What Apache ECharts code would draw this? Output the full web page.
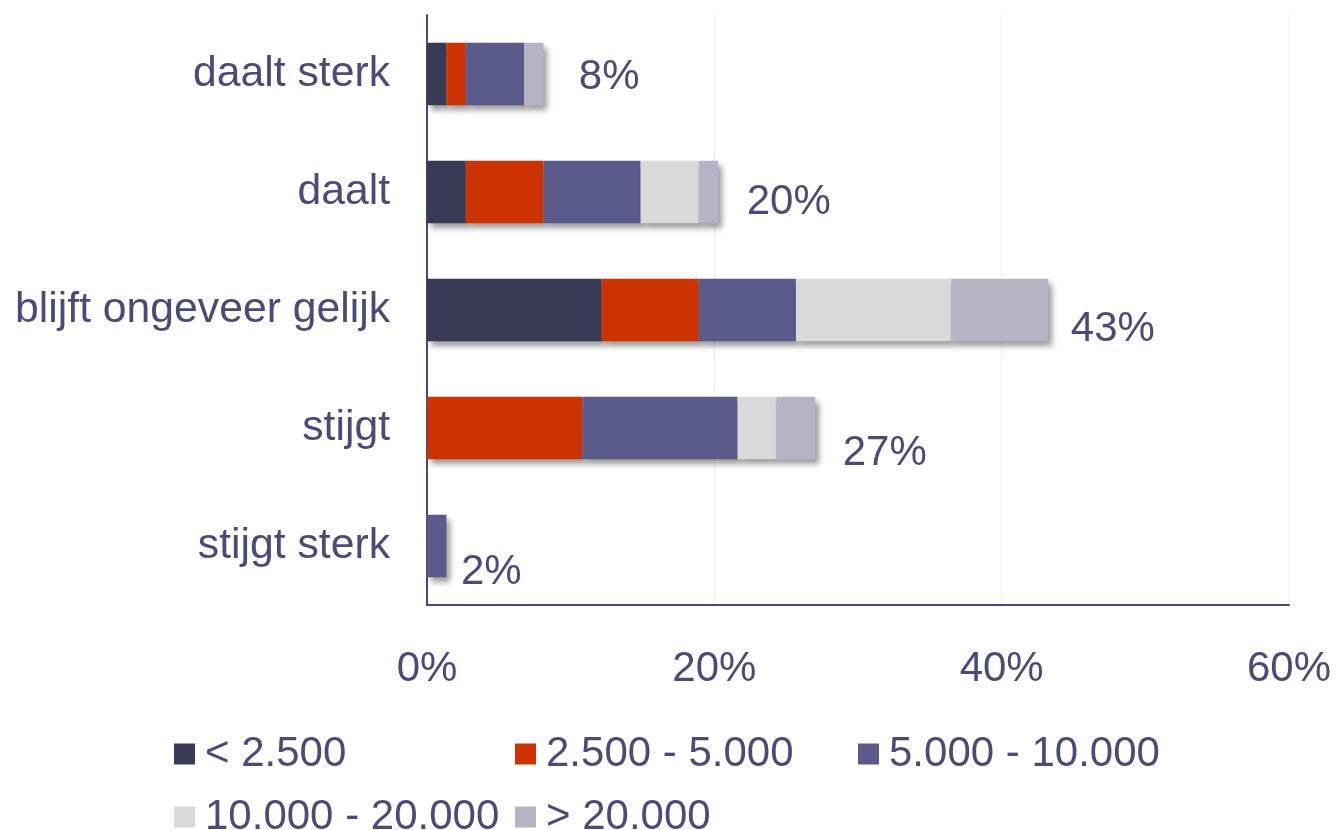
<!DOCTYPE html>
<html>
<head>
<meta charset="utf-8">
<script src="https://cdn.jsdelivr.net/npm/echarts@6/dist/echarts.min.js"></script>
<style>
html,body{margin:0;padding:0;background:#fff;}
#c{width:1336px;height:830px;}
</style>
</head>
<body>
<div id="c"></div>
<script>
// ---- data ----
const categories = ['daalt sterk', 'daalt', 'blijft ongeveer gelijk', 'stijgt', 'stijgt sterk'];
const seriesNames = ['< 2.500', '2.500 - 5.000', '5.000 - 10.000', '10.000 - 20.000', '> 20.000'];
const lt2500      = [1.35, 2.70, 12.16, 0,     0];
const s2500_5000  = [1.35, 5.41, 6.76,  10.81, 0];
const s5000_10000 = [4.05, 6.76, 6.76,  10.81, 1.35];
const s10000_20000= [0,    4.05, 10.81, 2.70,  0];
const gt20000     = [1.35, 1.35, 6.76,  2.70,  0];
const totalLabels = ['8%', '20%', '43%', '27%', '2%'];
const xTicks = [0, 20, 40, 60];

// ---- styles ----
const colors = ['#383a56', '#cc3300', '#5a5b8a', '#d9d9d9', '#b4b4c5'];
const textColor = '#4a4c78';
const font = "'Liberation Sans', Arial, sans-serif";
const labelOffsets = [[35, 3], [28, 10], [22, 19], [27, 25], [14, 26]];
const legendPos = [[174, 733], [515, 733], [858, 733], [174, 796], [515, 796]];

const seriesValues = [lt2500, s2500_5000, s5000_10000, s10000_20000, gt20000];
const totals = categories.map((c, i) => seriesValues.reduce((s, arr) => s + arr[i], 0));

const barSeries = seriesNames.map((name, k) => ({
  name: name,
  type: 'bar',
  stack: 'total',
  barCategoryGap: '47%',
  data: seriesValues[k],
  itemStyle: {
    color: colors[k],
    shadowBlur: 6,
    shadowOffsetX: 4,
    shadowOffsetY: 5,
    shadowColor: 'rgba(0,0,0,0.4)'
  },
  emphasis: { disabled: true }
}));

const labelSeries = {
  name: 'totaal',
  type: 'scatter',
  symbolSize: 1,
  itemStyle: { color: 'rgba(0,0,0,0)', opacity: 1 },
  silent: true,
  z: 10,
  data: categories.map((c, i) => ({
    value: [totals[i], c],
    label: {
      show: true,
      position: 'right',
      distance: 0,
      offset: labelOffsets[i],
      formatter: totalLabels[i],
      color: textColor,
      opacity: 1,
      fontSize: 42,
      fontFamily: font
    }
  }))
};

const legends = seriesNames.map((name, k) => ({
  data: [name],
  left: legendPos[k][0],
  top: legendPos[k][1],
  padding: 0,
  icon: 'rect',
  itemWidth: 21,
  itemHeight: 21,
  selectedMode: false,
  textStyle: {
    color: textColor,
    fontSize: 42,
    fontFamily: font,
    lineHeight: 42,
    padding: [0, 0, 0, 5]
  }
}));

const chart = echarts.init(document.getElementById('c'), null, { renderer: 'canvas' });
chart.setOption({
  animation: false,
  backgroundColor: '#ffffff',
  color: colors,
  grid: { left: 427, right: 47, top: 15, bottom: 225, containLabel: false },
  legend: legends,
  xAxis: {
    type: 'value',
    min: xTicks[0],
    max: xTicks[xTicks.length - 1],
    interval: xTicks[1] - xTicks[0],
    axisLine: { show: true, lineStyle: { color: textColor, width: 2 } },
    axisTick: { show: false },
    splitLine: { show: true, lineStyle: { color: '#eeeef2', width: 1 } },
    axisLabel: {
      formatter: '{value}%',
      color: textColor,
      fontSize: 42,
      fontFamily: font,
      margin: 43
    }
  },
  yAxis: {
    type: 'category',
    data: categories,
    inverse: true,
    axisLine: { show: true, lineStyle: { color: textColor, width: 2 } },
    axisTick: { show: false },
    splitLine: { show: false },
    axisLabel: {
      color: textColor,
      fontSize: 42.7,
      fontFamily: font,
      margin: 37,
      padding: [6, 0, 0, 0]
    }
  },
  series: barSeries.concat([labelSeries])
});
</script>
</body>
</html>
